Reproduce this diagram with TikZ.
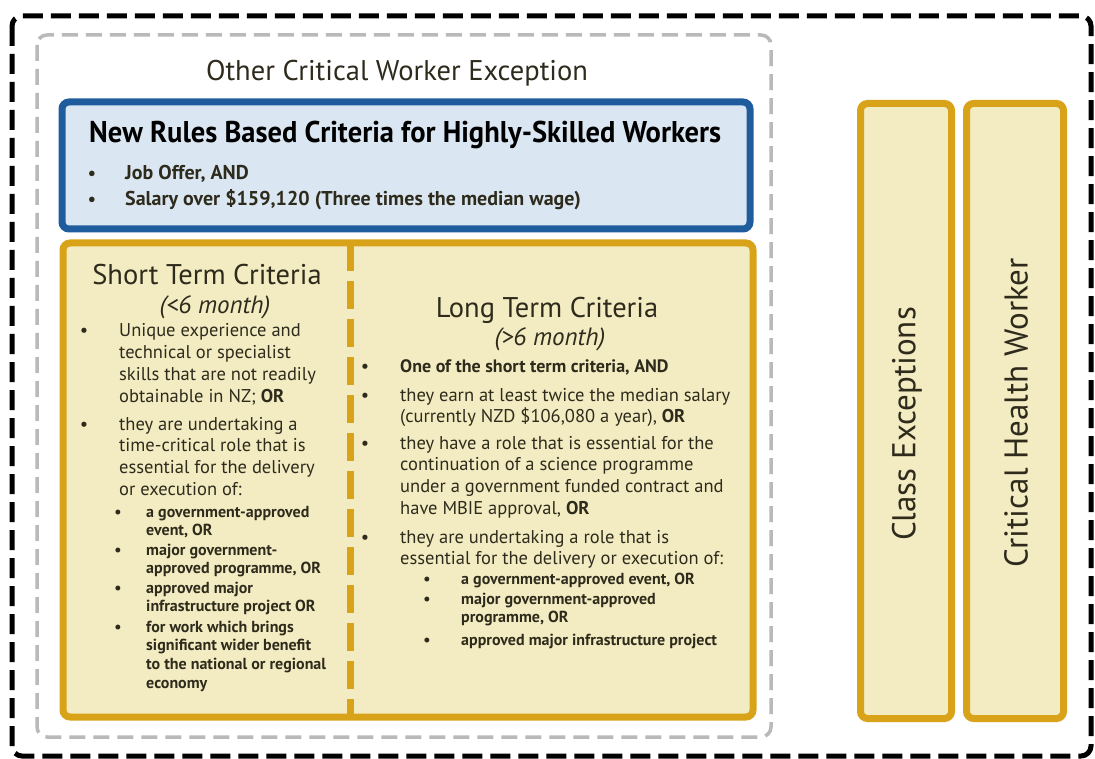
\documentclass[tikz,border=0pt]{standalone}
\usepackage{fontspec}
\setmainfont{PT Sans}
\newfontfamily\condsans[FakeStretch=0.95]{PT Sans}
\definecolor{ink}{HTML}{2E2B1C}
\definecolor{bluefill}{HTML}{DAE7F2}
\definecolor{blueline}{HTML}{1F5C9E}
\definecolor{goldfill}{HTML}{F3ECC2}
\definecolor{goldline}{HTML}{D8A318}
\definecolor{dashgray}{HTML}{B9B9B9}
\newcommand{\lns}[1]{\begin{tabular}[t]{@{}l@{}}#1\end{tabular}}
\tikzset{
  goldbox/.style={draw=goldline,fill=goldfill,line width=7pt,rounded corners=7pt},
  bul/.style={anchor=base,inner sep=0pt,text=ink},
  item/.style={anchor=base west,inner sep=0pt,text=ink},
  txt/.style={font=\fontsize{18.5}{21.7}\selectfont},
  subtxt/.style={font=\fontsize{16}{18.7}\selectfont\bfseries},
  hdtxt/.style={anchor=base,inner sep=0pt,text=ink,font=\fontsize{28.5}{32}\selectfont},
  subhd/.style={anchor=base,inner sep=0pt,text=ink,font=\fontsize{25}{28}\selectfont\itshape},
  sidetxt/.style={rotate=90,text=ink,font=\fontsize{33}{36}\selectfont},
}
\begin{document}
\begin{tikzpicture}[x=1pt,y=-1pt]
\useasboundingbox (0,0) rectangle (1095,759);
% outer frames
\draw[line width=5pt,dash pattern=on 20pt off 8pt,rounded corners=10pt] (12,16) rectangle (1091,756);
\draw[dashgray,line width=3.5pt,dash pattern=on 16pt off 8pt,rounded corners=10pt] (37,35) rectangle (771,737);
\node[hdtxt] (title) at (397,81) {Other Critical Worker Exception};

% blue box
\draw[blueline,fill=bluefill,line width=7pt,rounded corners=7pt] (62,102) rectangle (750,229);
\node[anchor=base west,inner sep=0pt,font=\fontsize{30}{34}\selectfont\condsans\bfseries] (rules) at (89,143) {New Rules Based Criteria for Highly-Skilled Workers};
\foreach \y/\t [count=\i] in {180/{Job Offer, AND},206/{Salary over \$159,120 (Three times the median wage)}}{
  \node[bul,font=\fontsize{18}{20}\selectfont\bfseries] (rb\i) at (92,\y) {\textbullet};
  \node[item,font=\fontsize{20}{22}\selectfont\bfseries] (rt\i) at (125,\y) {\t};
}

% criteria box
\draw[goldbox] (63,243) rectangle (753,717);
\draw[goldline,line width=7pt,dash pattern=on 28pt off 10pt] (350,243) -- (350,717);

% short term
\node[hdtxt] (shorthd) at (207,285) {Short Term Criteria};
\node[subhd] (shortsub) at (215,314) {(<6 month)};
\node[bul,txt] (sb1) at (84,337) {\textbullet};
\node[item,txt] (st1) at (119,337) {\lns{Unique experience and\\technical or specialist\\skills that are not readily\\obtainable in NZ; \textbf{OR}}};
\node[bul,txt] (sb2) at (84,430) {\textbullet};
\node[item,txt] (st2) at (119,430) {\lns{they are undertaking a\\time-critical role that is\\essential for the delivery\\or execution of:}};
\node[bul,subtxt] (ssb1) at (118,517) {\textbullet};
\node[item,subtxt] (sst1) at (146,517) {\lns{a government-approved\\event, OR}};
\node[bul,subtxt] (ssb2) at (118,555) {\textbullet};
\node[item,subtxt] (sst2) at (146,555) {\lns{major government-\\approved programme, OR}};
\node[bul,subtxt] (ssb3) at (118,593) {\textbullet};
\node[item,subtxt] (sst3) at (146,593) {\lns{approved major\\infrastructure project OR}};
\node[bul,subtxt] (ssb4) at (118,632) {\textbullet};
\node[item,subtxt] (sst4) at (146,632) {\lns{for work which brings\\significant wider benefit\\to the national or regional\\economy}};

% long term
\node[hdtxt] (longhd) at (547,317) {Long Term Criteria};
\node[subhd] (longsub) at (550,345) {(>6 month)};
\node[bul,txt] (lb1) at (365,372) {\textbullet};
\node[item,font=\fontsize{18}{20}\selectfont\bfseries] (lt1) at (400,372) {One of the short term criteria, AND};
\node[bul,txt] (lb2) at (365,401) {\textbullet};
\node[item,txt] (lt2) at (400,401) {\lns{they earn at least twice the median salary\\(currently NZD \$106,080 a year), \textbf{OR}}};
\node[bul,txt] (lb3) at (365,449) {\textbullet};
\node[item,txt] (lt3) at (400,449) {\lns{they have a role that is essential for the\\continuation of a science programme\\under a government funded contract and\\have MBIE approval, \textbf{OR}}};
\node[bul,txt] (lb4) at (365,543) {\textbullet};
\node[item,txt] (lt4) at (400,543) {\lns{they are undertaking a role that is\\essential for the delivery or execution of:}};
\node[bul,subtxt] (lsb1) at (427,584) {\textbullet};
\node[item,subtxt] (lst1) at (461,584) {a government-approved event, OR};
\node[bul,subtxt] (lsb2) at (427,604) {\textbullet};
\node[item,subtxt] (lst2) at (461,604) {\lns{major government-approved\\programme, OR}};
\node[bul,subtxt] (lsb3) at (427,645) {\textbullet};
\node[item,subtxt] (lst3) at (461,645) {approved major infrastructure project};

% side boxes
\draw[goldbox] (860.5,103.5) rectangle (951.5,718.5);
\draw[goldbox] (966.5,103.5) rectangle (1063.5,718.5);
\node[sidetxt] (classex) at (907,424) {Class Exceptions};
\node[sidetxt] (healthw) at (1016,413) {Critical Health Worker};
\end{tikzpicture}
\end{document}
